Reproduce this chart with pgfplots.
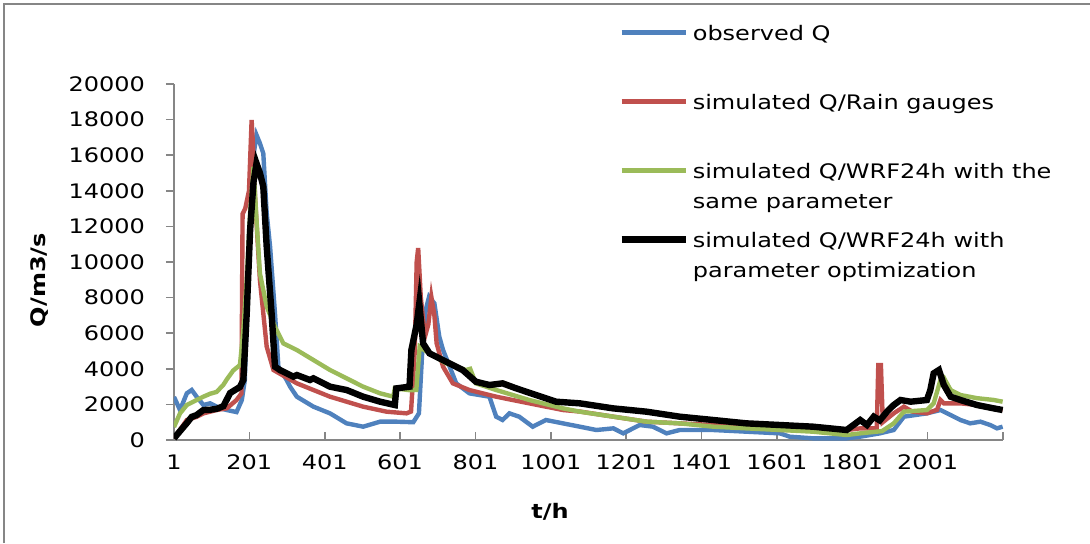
\documentclass[border=0pt]{standalone}
\usepackage{fontspec}
\setmainfont[FakeStretch=1.2]{DejaVu Sans}
\usepackage{pgfplots}
\pgfplotsset{compat=1.18}

\definecolor{obsblue}{RGB}{79,129,189}
\definecolor{simred}{RGB}{192,80,77}
\definecolor{simgreen}{RGB}{155,187,89}
\definecolor{axgray}{RGB}{134,134,134}

\begin{document}
\begin{tikzpicture}
\useasboundingbox (-87pt,-51.5pt) rectangle (458pt,220pt);
\draw[axgray, line width=0.8pt] (-85pt,-51.5pt) -- (-85pt,218pt) -- (458pt,218pt);
\begin{axis}[
    scale only axis,
    width=414.5pt, height=178pt,
    xmin=1, xmax=2201, ymin=0, ymax=20000,
    axis x line*=bottom, axis y line*=left,
    axis line style={axgray, line width=0.8pt, -},
    xtick={1,201,401,601,801,1001,1201,1401,1601,1801,2001,2201},
    xticklabels={1,201,401,601,801,1001,1201,1401,1601,1801,2001,{}},
    ytick={0,2000,...,20000},
    scaled y ticks=false,
    xtick align=inside, ytick align=outside,
    major tick length=4pt,
    tick style={axgray, line width=0.8pt},
    /pgf/number format/1000 sep={},
    /pgf/number format/assume math mode=true,
    xticklabel style={yshift=-4pt},
    yticklabel style={xshift=-7pt},
    xlabel={t/h}, ylabel={Q/m3/s},
    xlabel style={at={(axis description cs:0.4535,-0.202)}, anchor=center, font=\bfseries},
    ylabel style={at={(axis description cs:-0.1616,0.449)}, anchor=center, font=\bfseries},
    legend image code/.code={\draw[#1] (0pt,0.4em) -- (32pt,0.4em);},
    legend style={at={(rel axis cs:0.5356,1.1685)}, anchor=north west,
        draw=none, fill=none, inner sep=0pt, row sep=0pt, column sep=0pt,
        nodes={anchor=base west, text height=8pt, text depth=26.5pt,
               inner ysep=0pt, inner xsep=2pt}},
]
\addplot[obsblue, line width=2.2pt] coordinates {
(1,2420) (17,1685) (35,2622) (48,2810) (61,2434) (79,1966) (97,2060) (123,1779)
(141,1685) (167,1570) (181,2247) (189,3371) (194,7000) (203,12000) (212,16000)
(220,17135) (229,16670) (238,16100) (247,12734) (256,10861) (269,7116) (278,4120)
(300,3371) (309,3000) (327,2434) (371,1873) (415,1498) (459,936) (503,749)
(548,1030) (591,1030) (636,1000) (651,1498) (660,5056) (669,7303) (678,8052)
(692,7677) (705,5805) (715,5056) (750,3184) (785,2622) (838,2434) (856,1311)
(873,1124) (891,1498) (917,1311) (953,749) (988,1124) (1033,936) (1078,749)
(1122,562) (1167,655) (1193,374) (1237,843) (1272,749) (1308,374) (1343,562)
(1432,562) (1520,468) (1609,374) (1635,187) (1697,94) (1786,94) (1822,187)
(1874,374) (1911,562) (1938,1311) (1999,1498) (2035,1685) (2062,1404)
(2088,1124) (2114,936) (2141,1030) (2167,843) (2185,655) (2200,749)
};
\addlegendentry{observed Q}
\addplot[simred, line width=2.2pt] coordinates {
(1,94) (35,1124) (61,1300) (79,1498) (114,1685) (141,1779) (167,2247) (180,2622)
(183,12700) (190,13000) (200,14000) (207,17978) (212,16000) (216,13670)
(229,8989) (247,5243) (265,3933) (327,3184) (415,2434) (503,1873) (565,1592)
(618,1498) (630,1600) (640,5000) (645,10000) (649,10787) (656,8000) (667,5805)
(676,6500) (684,8034) (692,7000) (698,5430) (715,4120) (741,3184) (785,2809)
(856,2434) (944,2060) (1033,1685) (1078,1600) (1167,1311) (1255,1030)
(1343,936) (1432,843) (1520,749) (1609,562) (1697,562) (1786,562) (1822,655)
(1866,655) (1870,4213) (1877,4213) (1882,1000) (1911,1498) (1938,1873)
(1960,1600) (1999,1498) (2026,1700) (2035,2247) (2044,2060) (2088,2060)
(2132,1966) (2200,1685)
};
\addlegendentry{simulated Q/Rain gauges}
\addplot[simgreen, line width=2.2pt] coordinates {
(1,730) (17,1498) (35,1966) (61,2247) (79,2434) (97,2600) (114,2700) (132,3100)
(141,3400) (158,3900) (176,4213) (185,6180) (194,8989) (203,12734) (212,15356)
(220,12360) (229,9363) (247,7490) (269,6367) (291,5430) (327,5056) (371,4494)
(415,3933) (459,3464) (503,2996) (548,2622) (583,2434) (587,2903) (626,2800)
(644,2809) (653,5243) (662,5100) (679,4870) (723,4307) (776,3933) (787,4000)
(802,3184) (856,2809) (944,2247) (1033,1779) (1078,1592) (1167,1311)
(1255,1030) (1343,936) (1432,749) (1520,655) (1609,562) (1697,468) (1786,281)
(1822,374) (1880,500) (1911,936) (1938,1592) (1999,1685) (2017,2060)
(2035,3371) (2044,3500) (2062,2809) (2088,2528) (2132,2350) (2176,2250)
(2200,2153)
};
\addlegendentry{\parbox[t]{200pt}{simulated Q/WRF24h with the\\[3pt]same parameter}}
\addplot[black, line width=3.2pt] coordinates {
(1,94) (17,500) (35,950) (48,1300) (61,1400) (79,1685) (97,1700) (114,1750)
(132,1900) (150,2640) (176,2980) (185,3371) (189,5000) (194,7116) (203,11798)
(212,14500) (216,15000) (220,15543) (229,15000) (238,14232) (247,10861)
(260,7116) (269,4120) (282,3933) (318,3558) (327,3650) (362,3371) (371,3464)
(415,2996) (459,2809) (503,2434) (548,2153) (587,1966) (591,2900) (626,2996)
(631,5056) (645,6500) (652,7677) (662,5430) (679,4870) (723,4400) (767,3933)
(802,3277) (838,3090) (873,3183) (909,2903) (962,2528) (1015,2153) (1078,2060)
(1166,1779) (1255,1592) (1343,1311) (1432,1124) (1520,936) (1609,843)
(1697,749) (1786,562) (1804,843) (1822,1124) (1840,843) (1858,1311)
(1874,1100) (1893,1592) (1911,1966) (1929,2247) (1956,2153) (1999,2247)
(2008,2800) (2017,3745) (2031,3933) (2044,3090) (2062,2434) (2088,2247)
(2132,1966) (2176,1779) (2200,1685)
};
\addlegendentry{\parbox[t]{200pt}{simulated Q/WRF24h with\\[3pt]parameter optimization}}
\end{axis}
\end{tikzpicture}
\end{document}
